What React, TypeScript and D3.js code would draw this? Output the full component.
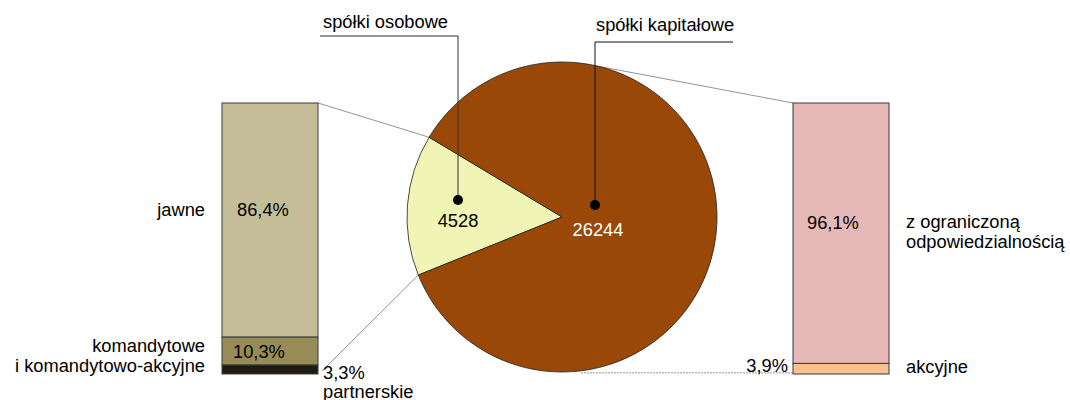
import * as d3 from 'd3';

// pie: spółki osobowe vs spółki kapitałowe
const pieNames = ['spółki osobowe', 'spółki kapitałowe'];
const pieValues = [4528, 26244];
const pieColors = ['#F0F4B4', '#994807'];

// left bar: breakdown of spółki osobowe (%)
const leftNames = ['jawne', 'komandytowe\ni komandytowo-akcyjne', 'partnerskie'];
const leftValues = [86.4, 10.3, 3.3];
const leftLabels = ['86,4%', '10,3%', '3,3%'];
const leftColors = ['#C4BD98', '#978C56', '#1E1C10'];

// right bar: breakdown of spółki kapitałowe (%)
const rightNames = ['z ograniczoną\nodpowiedzialnością', 'akcyjne'];
const rightValues = [96.1, 3.9];
const rightLabels = ['96,1%', '3,9%'];
const rightColors = ['#E6B8B8', '#FAC08F'];

const W = 1070;
const H = 400;
const cx = 562;
const cy = 217;
const R = 155;
const barTop = 103;
const barBottom = 374;
const leftX = 222;
const rightX = 793;
const barW = 96;
const font = 'Liberation Sans, Arial, sans-serif';
const fs = 18.3;

const deg = Math.PI / 180;

function stackBar(values: number[]) {
  const y = d3.scaleLinear().domain([0, 100]).range([barTop, barBottom]);
  let acc = 0;
  return values.map(v => {
    const y0 = y(acc);
    acc += v;
    return { y0, y1: y(acc) };
  });
}

const pt = (a: number, r = R) => [cx + r * Math.sin(a), cy - r * Math.cos(a)];

export default function App() {
  const pie = d3
    .pie<number>()
    .sort(null)
    .startAngle(-112 * deg)
    .endAngle(248 * deg)(pieValues);
  const arc = d3.arc<d3.PieArcDatum<number>>().innerRadius(0).outerRadius(R);

  const left = stackBar(leftValues);
  const right = stackBar(rightValues);

  const osob = pie[0];
  const [sTopX, sTopY] = pt(osob.endAngle);
  const [sBotX, sBotY] = pt(osob.startAngle);
  const [rTopX, rTopY] = pt(13 * deg);
  const [rBotX, rBotY] = pt(173 * deg);

  const dotOsob = [458, 200];
  const dotKap = [595, 205];

  return (
    <svg
      width={W}
      height={H}
      viewBox={`0 0 ${W} ${H}`}
      style={{ position: 'absolute', left: 0, top: 0, background: '#fff' }}
      fontFamily={font}
      fontSize={fs}
    >
      {/* connector lines */}
      <line x1={leftX + barW} y1={barTop} x2={sTopX} y2={sTopY} stroke="#777" strokeWidth={0.8} />
      <line x1={leftX + barW + 4} y1={barBottom - 3} x2={sBotX} y2={sBotY} stroke="#777" strokeWidth={0.8} />
      <line x1={rTopX} y1={rTopY} x2={rightX} y2={barTop} stroke="#777" strokeWidth={0.8} />
      <line x1={rBotX} y1={rBotY + 2} x2={833} y2={rBotY + 2} stroke="#777" strokeWidth={0.8} strokeDasharray="2,1" />

      {/* pie */}
      <g transform={`translate(${cx},${cy})`}>
        {pie.map((d, i) => (
          <path key={i} d={arc(d) as string} fill={pieColors[i]} stroke="#222" strokeWidth={0.8} />
        ))}
      </g>

      {/* left bar */}
      {left.map((s, i) => (
        <rect key={i} x={leftX} y={s.y0} width={barW} height={s.y1 - s.y0} fill={leftColors[i]} stroke="#3a3a3a" strokeWidth={1} />
      ))}
      {/* right bar */}
      {right.map((s, i) => (
        <rect key={i} x={rightX} y={s.y0} width={barW} height={s.y1 - s.y0} fill={rightColors[i]} stroke="#3a3a3a" strokeWidth={1} />
      ))}

      {/* left bar labels */}
      <text x={237} y={216}>{leftLabels[0]}</text>
      <text x={233} y={358}>{leftLabels[1]}</text>
      <text x={323} y={379}>{leftLabels[2]}</text>
      <text x={205} y={216} textAnchor="end">{leftNames[0]}</text>
      {leftNames[1].split('\n').map((t, i) => (
        <text key={i} x={205} y={352 + i * 20} textAnchor="end">{t}</text>
      ))}
      <text x={323} y={398}>{leftNames[2]}</text>

      {/* right bar labels */}
      <text x={807} y={229}>{rightLabels[0]}</text>
      <text x={788} y={372} textAnchor="end">{rightLabels[1]}</text>
      {rightNames[0].split('\n').map((t, i) => (
        <text key={i} x={906} y={228 + i * 20}>{t}</text>
      ))}
      <text x={906} y={373}>{rightNames[1]}</text>

      {/* pie leaders */}
      <polyline points={`320,36 ${dotOsob[0]},36 ${dotOsob[0]},${dotOsob[1]}`} fill="none" stroke="#333" strokeWidth={1} />
      <polyline points={`733,42 ${dotKap[0]},42 ${dotKap[0]},${dotKap[1]}`} fill="none" stroke="#111" strokeWidth={1} />
      <circle cx={dotOsob[0]} cy={dotOsob[1]} r={5} fill="#000" />
      <circle cx={dotKap[0]} cy={dotKap[1]} r={5} fill="#000" />
      <text x={323} y={28}>{pieNames[0]}</text>
      <text x={596} y={31}>{pieNames[1]}</text>
      <text x={dotOsob[0]} y={227} textAnchor="middle">{String(pieValues[0])}</text>
      <text x={dotKap[0] + 3} y={236} textAnchor="middle" fill="#fff">{String(pieValues[1])}</text>
    </svg>
  );
}
